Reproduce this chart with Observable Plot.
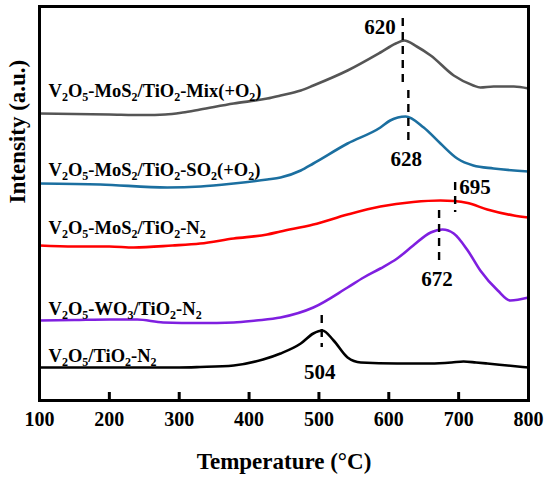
<!DOCTYPE html>
<html><head><meta charset="utf-8">
<script src="https://cdn.jsdelivr.net/npm/d3@7"></script>
<script src="https://cdn.jsdelivr.net/npm/@observablehq/plot@0.6"></script>
<style>body{margin:0;background:#fff}</style>
</head><body><div id="chart"></div>
<script>
// Temperature (°C) and intensity (a.u., offset traces)
const mixT = [100,150,200,250,280,305,330,378,426,445,474,492,541,588,610,622,640,660,693,721,731,750,779,800];
const mixV = [287,286.5,286,285.5,286,288,291,297,302,305,310,315,330,348,357,360,354,345,325,315,313,314,314,312];

const so2T = [100,187,283,331,378,426,445,474,492,541,588,602,624,650,674,698,721,750,800];
const so2V = [217,216,213,214,217,221,223,230,237,257,273,280,284,273,257,242,235,232,229];

const n2T = [100,150,200,235,290,330,378,426,445,492,541,588,635,674,693,713,741,779,800];
const n2V = [155,154,154,153,155,157,162,166,169,176,186,194,198.5,200,199.5,197.5,191,185,183];

const wo3T = [100,150,200,240,277,330,378,410,445,492,541,564,588,612,635,660,677,693,713,731,756,774,800];
const wo3V = [80,80.5,81,81,78,77.5,78,80,83,93,113,123,132,142,155,168,171,167,150,130,110,100,103];

const vtT = [100,200,300,330,378,420,445,474,492,505,521,541,560,612,660,690,707,725,741,770,800];
const vtV = [33,33,33,33.5,35,41,47,57,67,70,60,43,38,37,37,38,39,38,37,35,33];

const seriesNames = [
  "V_2O_5-MoS_2/TiO_2-Mix(+O_2)",
  "V_2O_5-MoS_2/TiO_2-SO_2(+O_2)",
  "V_2O_5-MoS_2/TiO_2-N_2",
  "V_2O_5-WO_3/TiO_2-N_2",
  "V_2O_5/TiO_2-N_2"
];
const seriesColors = ["#555555", "#1b6fa0", "#ff0000", "#7f1fe0", "#000000"];
const seriesLabelT = 113;
const seriesLabelV = [304, 225, 167, 86, 39];

const peakT = [620, 628, 695, 672, 504];
const peakY1 = [382, 310, 218, 190, 85];
const peakY2 = [312, 260, 188, 140, 53];
const peakLabelV = [367, 235, 207, 115, 22];

const xTicks = [100, 200, 300, 400, 500, 600, 700, 800];

const seriesT = [mixT, so2T, n2T, wo3T, vtT];
const seriesV = [mixV, so2V, n2V, wo3V, vtV];
const rows = [];
seriesNames.forEach((s, i) => seriesT[i].forEach((t, j) => rows.push({T: t, v: seriesV[i][j], s})));
const labels = seriesNames.map((s, i) => ({T: seriesLabelT, v: seriesLabelV[i], s}));
const peaks = peakT.map((t, i) => ({T: t, y1: peakY1[i], y2: peakY2[i], lv: peakLabelV[i]}));

const font = "'Liberation Serif', 'Times New Roman', serif";
const chart = Plot.plot({
  width: 550, height: 478,
  marginLeft: 39, marginRight: 22, marginTop: 6, marginBottom: 78,
  x: {domain: [100, 800], label: null},
  y: {domain: [0, 394], axis: null},
  color: {domain: seriesNames, range: seriesColors},
  style: {fontFamily: font, background: "#fff", color: "#000"},
  marks: [
    Plot.line(rows, {x: "T", y: "v", z: "s", stroke: "s", strokeWidth: 2.6, curve: "monotone-x"}),
    Plot.ruleX(peaks, {x: "T", y1: "y1", y2: "y2", stroke: "#000", strokeWidth: 2.4, strokeDasharray: "8,6"}),
    Plot.text(peaks.filter(d => d.T === 620), {x: "T", y: "lv", text: d => String(d.T), textAnchor: "end", dx: -7, lineAnchor: "bottom", fontSize: 21, fontWeight: "bold"}),
    Plot.text(peaks.filter(d => d.T === 695), {x: "T", y: "lv", text: d => String(d.T), textAnchor: "start", dx: 4, lineAnchor: "bottom", fontSize: 21, fontWeight: "bold"}),
    Plot.text(peaks.filter(d => d.T !== 620 && d.T !== 695), {x: "T", y: "lv", text: d => String(d.T), textAnchor: "middle", dx: -2, lineAnchor: "bottom", fontSize: 21, fontWeight: "bold"}),
    Plot.text(labels, {x: "T", y: "v", text: "s", textAnchor: "start", lineAnchor: "bottom", fontSize: 18.5, fontWeight: "bold", fill: "#000"}),
    Plot.tickX(xTicks.slice(1, -1), {x: d => d, insetTop: 386, stroke: "#000", strokeWidth: 3}),
    Plot.axisX(xTicks, {tickSize: 0, tickPadding: 11, fontSize: 20, fontWeight: "bold", label: null}),
    Plot.frame({stroke: "#000", strokeWidth: 3}),
    Plot.text(["Temperature (°C)"], {frameAnchor: "bottom", dy: 68, lineAnchor: "bottom", fontSize: 23, fontWeight: "bold"}),
    Plot.text(["Intensity (a.u.)"], {frameAnchor: "left", dx: -22, rotate: -90, lineAnchor: "middle", fontSize: 23, fontWeight: "bold"})
  ]
});

function applySubs(svg) {
  svg.querySelectorAll("text").forEach(t => {
    const s = t.textContent;
    if (!s.includes("_")) return;
    t.textContent = "";
    const parts = s.split(/_(\d)/);
    let shifted = false;
    parts.forEach((p, i) => {
      if (!p) return;
      const ts = document.createElementNS("http://www.w3.org/2000/svg", "tspan");
      ts.textContent = p;
      if (i % 2 === 1) {
        ts.setAttribute("font-size", "12");
        if (!shifted) { ts.setAttribute("dy", "4"); shifted = true; }
      } else if (shifted) {
        ts.setAttribute("dy", "-4"); shifted = false;
      }
      t.appendChild(ts);
    });
  });
}
applySubs(chart);
document.getElementById("chart").appendChild(chart);
</script>
</body></html>
